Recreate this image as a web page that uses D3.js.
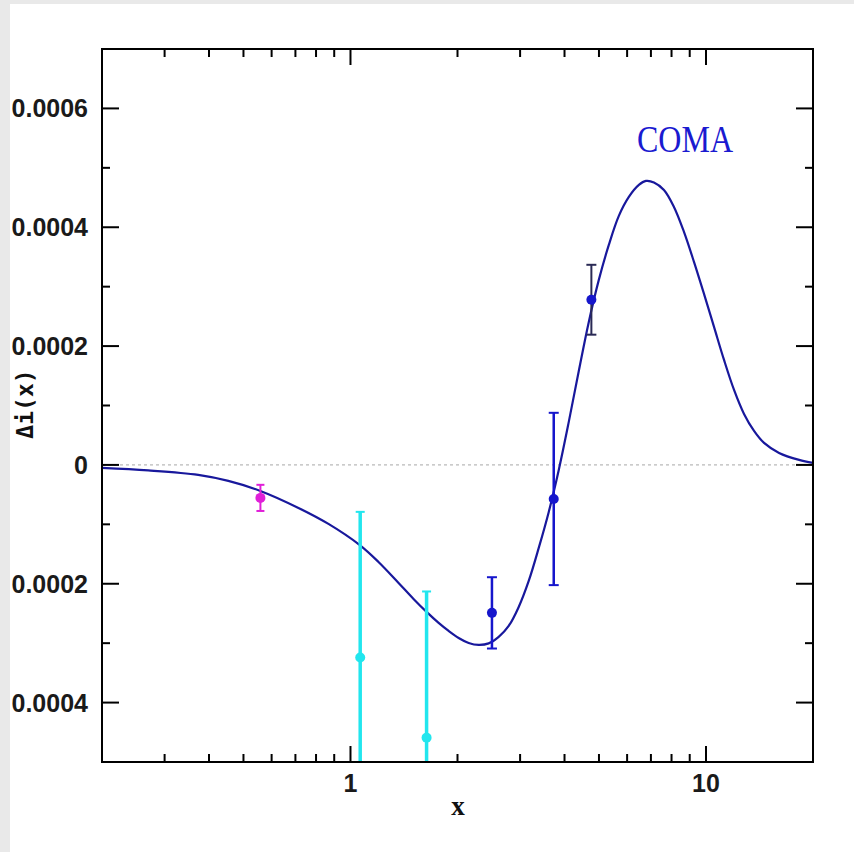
<!DOCTYPE html>
<html>
<head>
<meta charset="utf-8">
<script src="https://cdn.jsdelivr.net/npm/d3@7"></script>
<style>
  html, body { margin: 0; padding: 0; background: #ffffff; }
  svg { display: block; }
</style>
</head>
<body>
<svg id="chart" width="854" height="852"></svg>
<script>
// Model curve Δi(x) sampled along x
const curveX = [0.2, 0.2698, 0.373, 0.4532, 0.5578, 0.714, 0.867, 1.0601, 1.199, 1.3655,
                1.5044, 1.637, 1.7698, 1.8884, 2.015, 2.15, 2.294, 2.4475, 2.6115, 2.7866,
                2.9732, 3.1724, 3.385, 3.6118, 3.8537, 4.1119, 4.3874, 4.6813, 4.995, 5.3297,
                5.6868, 6.0679, 6.4744, 6.7764, 7.1386, 7.6168, 8.1272, 8.6711, 9.2522, 9.8723,
                10.534, 11.24, 11.993, 12.794, 13.652, 14.566, 16.054, 18.281, 20];
const curveY = [-0.00000505, -0.00000926, -0.0000168, -0.0000269, -0.0000438, -0.0000724,
                -0.0000993, -0.0001346, -0.0001633, -0.0001986, -0.0002255, -0.0002474,
                -0.0002659, -0.0002794, -0.0002912, -0.0002996, -0.0003029, -0.0003004,
                -0.0002895, -0.000271, -0.000239, -0.0001952, -0.0001397, -0.0000791,
                -0.0000084, 0.0000724, 0.0001582, 0.0002407, 0.0003114, 0.0003703, 0.0004191,
                0.000451, 0.0004712, 0.000478, 0.0004755, 0.0004628, 0.0004342, 0.0003921,
                0.0003417, 0.0002878, 0.0002323, 0.0001767, 0.0001262, 0.0000858, 0.0000572,
                0.000037, 0.0000202, 0.0000084, 0.0000034];

// Measured points with symmetric errors
const pointX   = [0.558, 1.065, 1.637, 2.50, 3.73, 4.76];
const pointY   = [-0.0000555, -0.000324, -0.000459, -0.000249, -0.0000573, 0.000278];
const pointErr = [0.000022, 0.000245, 0.000246, 0.00006, 0.000145, 0.0000588];
const pointColor = ["#e01fd8", "#22e6ee", "#22e6ee", "#1616cc", "#1616cc", "#1616cc"];
const errColor   = ["#e01fd8", "#22e6ee", "#22e6ee", "#1616cc", "#1616cc", "#2a2a55"];
const errWidth   = [2, 3.5, 3.5, 2.5, 2.5, 2];
const capHalf    = [4, 4.5, 4.5, 5, 5, 5];

// Axis ticks
const xMajor = [1, 10];
const xMinor = [0.3, 0.4, 0.5, 0.6, 0.7, 0.8, 0.9, 2, 3, 4, 5, 6, 7, 8, 9];
const yMajor = [-0.0004, -0.0002, 0, 0.0002, 0.0004, 0.0006];
const yMinor = [-0.0005, -0.0003, -0.0001, 0.0001, 0.0003, 0.0005];
const yLabels = ["\u22120.0004", "\u22120.0002", "0", "0.0002", "0.0004", "0.0006"];

const svg = d3.select("#chart");
const L = 102, R = 813, T = 49, B = 762;

const x = d3.scaleLog().domain([0.2, 20]).range([L, R]);
const y = d3.scaleLinear().domain([-0.0005, 0.0007]).range([B, T]);

svg.append("rect").attr("width", 854).attr("height", 852).attr("fill", "#ffffff");

const defs = svg.append("defs");
defs.append("clipPath").attr("id", "plot")
  .append("rect").attr("x", L).attr("y", T).attr("width", R - L).attr("height", B - T);
// the page edge trims the left end of the value labels
defs.append("clipPath").attr("id", "page")
  .append("rect").attr("x", 12).attr("y", 4).attr("width", 842).attr("height", 848);

const plot = svg.append("g").attr("clip-path", "url(#plot)");

// zero reference line
plot.append("line")
  .attr("x1", L).attr("x2", R).attr("y1", y(0)).attr("y2", y(0))
  .attr("stroke", "#a8a8a8").attr("stroke-width", 1).attr("stroke-dasharray", "3,3");

// model curve
const line = d3.line().x(d => x(d[0])).y(d => y(d[1])).curve(d3.curveCatmullRom.alpha(0.5));
plot.append("path")
  .datum(curveX.map((v, i) => [v, curveY[i]]))
  .attr("d", line)
  .attr("fill", "none").attr("stroke", "#18189c").attr("stroke-width", 2.2);

// error bars and points
pointX.forEach((px, i) => {
  const g = plot.append("g");
  const cx = x(px), lo = y(pointY[i] - pointErr[i]), hi = y(pointY[i] + pointErr[i]);
  g.append("line").attr("x1", cx).attr("x2", cx).attr("y1", lo).attr("y2", hi)
    .attr("stroke", errColor[i]).attr("stroke-width", errWidth[i]);
  [lo, hi].forEach(cy => {
    g.append("line").attr("x1", cx - capHalf[i]).attr("x2", cx + capHalf[i])
      .attr("y1", cy).attr("y2", cy)
      .attr("stroke", errColor[i]).attr("stroke-width", 2);
  });
  g.append("circle").attr("cx", cx).attr("cy", y(pointY[i])).attr("r", 5)
    .attr("fill", pointColor[i]);
});

// frame
svg.append("rect").attr("x", L).attr("y", T).attr("width", R - L).attr("height", B - T)
  .attr("fill", "none").attr("stroke", "#000").attr("stroke-width", 2);

// inward ticks on all four sides
const ticks = svg.append("g").attr("stroke", "#000").attr("stroke-width", 2);
xMajor.forEach(v => {
  ticks.append("line").attr("x1", x(v)).attr("x2", x(v)).attr("y1", B).attr("y2", B - 16);
  ticks.append("line").attr("x1", x(v)).attr("x2", x(v)).attr("y1", T).attr("y2", T + 16);
});
xMinor.forEach(v => {
  ticks.append("line").attr("x1", x(v)).attr("x2", x(v)).attr("y1", B).attr("y2", B - 8);
  ticks.append("line").attr("x1", x(v)).attr("x2", x(v)).attr("y1", T).attr("y2", T + 8);
});
yMajor.forEach(v => {
  ticks.append("line").attr("x1", L).attr("x2", L + 17).attr("y1", y(v)).attr("y2", y(v));
  ticks.append("line").attr("x1", R).attr("x2", R - 17).attr("y1", y(v)).attr("y2", y(v));
});
yMinor.forEach(v => {
  ticks.append("line").attr("x1", L).attr("x2", L + 8).attr("y1", y(v)).attr("y2", y(v));
  ticks.append("line").attr("x1", R).attr("x2", R - 8).attr("y1", y(v)).attr("y2", y(v));
});

// tick labels
svg.append("g").attr("clip-path", "url(#page)")
  .selectAll("text").data(yMajor).join("text")
  .attr("x", 88).attr("y", d => y(d)).attr("dy", "0.36em")
  .attr("text-anchor", "end")
  .attr("font-family", "Liberation Sans, Arial, sans-serif").attr("font-size", 25)
  .attr("font-weight", "bold").attr("fill", "#1a1a1a")
  .text((d, i) => yLabels[i]);

svg.append("g").selectAll("text").data(xMajor).join("text")
  .attr("x", d => x(d)).attr("y", 792)
  .attr("text-anchor", "middle")
  .attr("font-family", "Liberation Sans, Arial, sans-serif").attr("font-size", 25)
  .attr("font-weight", "bold").attr("fill", "#1a1a1a")
  .text(d => d3.format("d")(d));

// axis titles
svg.append("text").attr("x", 458).attr("y", 815).attr("text-anchor", "middle")
  .attr("font-family", "Liberation Serif, Times New Roman, serif").attr("font-size", 27)
  .attr("font-weight", "bold").attr("fill", "#111").text("x");

svg.append("text").attr("transform", "translate(33,404) rotate(-90)")
  .attr("text-anchor", "middle")
  .attr("font-family", "DejaVu Sans Mono, monospace").attr("font-size", 23)
  .attr("font-weight", "bold").attr("fill", "#111").text("\u0394i(x)");

// cluster label
svg.append("text").attr("transform", "translate(685,152) scale(1,1.18)")
  .attr("text-anchor", "middle")
  .attr("font-family", "Liberation Serif, Times New Roman, serif").attr("font-size", 32)
  .attr("fill", "#1a1ad0").text("COMA");

// surrounding page margin
svg.append("rect").attr("x", 0).attr("y", 0).attr("width", 10).attr("height", 852).attr("fill", "#e9e9e9");
svg.append("rect").attr("x", 0).attr("y", 0).attr("width", 854).attr("height", 4).attr("fill", "#e9e9e9");
</script>
</body>
</html>
